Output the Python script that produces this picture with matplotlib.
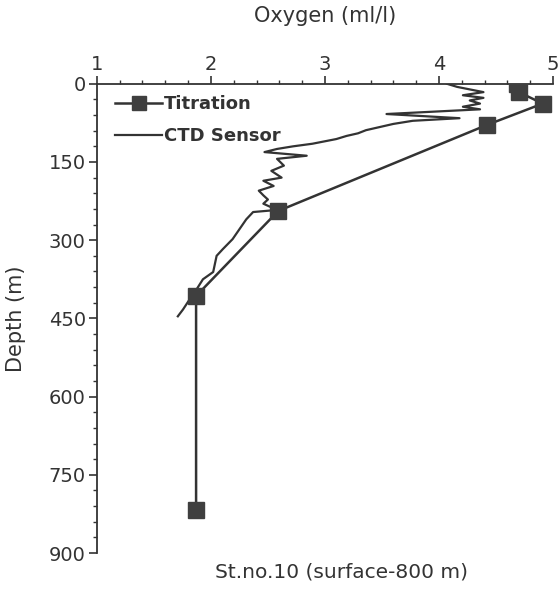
import numpy as np
import matplotlib
matplotlib.use("Agg")
import matplotlib.pyplot as plt
from matplotlib.ticker import MultipleLocator

# titration samples (oxygen ml/l, depth m)
tit_oxy = [4.68, 4.70, 4.91, 4.42, 2.59, 1.87, 1.87]
tit_depth = [0, 16, 38, 79, 244, 407, 817]

# CTD sensor profile
ctd_oxy = [4.07, 4.16, 4.39, 4.21, 4.39, 4.27, 4.36, 4.21, 4.36, 3.54,
           4.18, 3.77, 3.60, 3.48, 3.36, 3.29, 3.19, 3.10, 2.89, 2.72,
           2.58, 2.47, 2.84, 2.58, 2.64, 2.53, 2.62, 2.46, 2.55, 2.42,
           2.46, 2.50, 2.46, 2.52, 2.58, 2.37, 2.31, 2.25, 2.19, 2.105,
           2.05, 2.02, 1.93, 1.875, 1.815, 1.755, 1.71]
ctd_depth = [0, 6, 16, 22, 27, 32, 38, 44, 49, 58,
             66, 71, 77, 83, 89, 95, 100, 106, 115, 120,
             125, 131, 138, 144, 157, 167, 180, 186, 196, 205,
             214, 222, 230, 236, 242, 246, 260, 279, 298, 317,
             330, 361, 375, 394, 413, 433, 446]

dark = "#333333"
plt.rcParams['font.family'] = ['DejaVu Sans']

fig = plt.figure(figsize=(5.6, 5.9), dpi=100)
ax = fig.add_axes([0.173, 0.0627, 0.8145, 0.7953])

ax.plot(ctd_oxy, ctd_depth, color=dark, linewidth=1.6, label="CTD Sensor", zorder=2)
ax.plot(tit_oxy, tit_depth, color=dark, linewidth=1.8, marker='s', markersize=12,
        markerfacecolor="#3f3f3f", markeredgecolor="#3f3f3f", label="Titration", zorder=3)

ax.set_xlim(1, 5)
ax.set_ylim(900, 0)
ax.xaxis.tick_top()
ax.xaxis.set_label_position('top')
ax.xaxis.set_major_locator(MultipleLocator(1))
ax.xaxis.set_minor_locator(MultipleLocator(0.2))
ax.yaxis.set_major_locator(MultipleLocator(150))
ax.yaxis.set_minor_locator(MultipleLocator(30))
ax.spines['right'].set_visible(False)
ax.spines['bottom'].set_visible(False)
for s in ['top', 'left']:
    ax.spines[s].set_color(dark)
    ax.spines[s].set_linewidth(1.3)
ax.tick_params(which='major', length=6, width=1.2, colors=dark, labelsize=14, pad=2)
ax.tick_params(which='minor', length=3, width=1.0, colors=dark)
ax.tick_params(axis='x', labelcolor=dark, pad=1)

ax.set_xlabel("Oxygen (ml/l)", fontsize=15, color=dark, labelpad=24)
ax.set_ylabel("Depth (m)", fontsize=15, color=dark, labelpad=16)

handles, labels = ax.get_legend_handles_labels()
leg = ax.legend(handles[::-1], labels[::-1], loc='upper left', bbox_to_anchor=(0.005, 1.01),
                frameon=False, handlelength=2.6, handletextpad=0.1, labelspacing=0.75,
                markerscale=0.8, prop={'weight': 'bold', 'size': 13})
for t in leg.get_texts():
    t.set_color(dark)

fig.text(0.61, 0.031, "St.no.10 (surface-800 m)", fontsize=14.5, color=dark,
         ha='center', va='center')

fig.savefig("out.png", dpi=100, facecolor='white')
